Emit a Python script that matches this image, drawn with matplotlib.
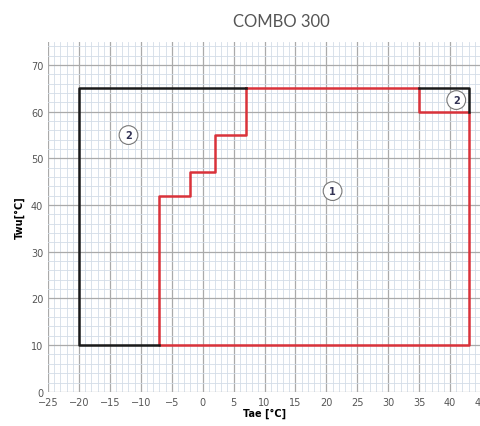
import matplotlib.pyplot as plt
from matplotlib.ticker import MultipleLocator

# limite operativo (contorno nero) e zona pompa di calore (contorno rosso)
black_x = [-7, -20, -20, 7]
black_y = [10, 10, 65, 65]
black_box_x = [35, 43, 43]
black_box_y = [65, 65, 60]
red_x = [7, 7, 2, 2, -2, -2, -7, -7, 43, 43, 35, 35, 7]
red_y = [65, 55, 55, 47, 47, 42, 42, 10, 10, 60, 60, 65, 65]

labels = ['1', '2', '2']
label_x = [21, -12, 41]
label_y = [43, 55, 62.5]

x_ticks = list(range(-25, 50, 5))
y_ticks = list(range(0, 80, 10))


def main():
    fig = plt.figure(figsize=(4.81, 4.27), dpi=100)
    ax = fig.add_axes([0.1, 0.08, 0.9, 0.82])

    ax.set_xlim(-25, 45)
    ax.set_ylim(0, 75)
    ax.set_xticks(x_ticks)
    ax.set_yticks(y_ticks)
    ax.xaxis.set_minor_locator(MultipleLocator(1))
    ax.yaxis.set_minor_locator(MultipleLocator(2))
    ax.grid(which='major', color='#aaaaaa', linewidth=0.9)
    ax.grid(which='minor', color='#d3dde8', linewidth=0.6)
    ax.set_axisbelow(True)
    for s in ax.spines.values():
        s.set_visible(False)
    ax.tick_params(which='both', length=0, labelsize=7, colors='#555555')

    ax.plot(red_x, red_y, color='#d9323a', linewidth=1.8)
    ax.plot(black_x, black_y, color='#1a1a1a', linewidth=1.8)
    ax.plot(black_box_x, black_box_y, color='#1a1a1a', linewidth=1.8)

    for t, x, y in zip(labels, label_x, label_y):
        ax.text(x, y, t, ha='center', va='center', fontsize=7, fontweight='bold',
                color='#333355',
                bbox=dict(boxstyle='circle,pad=0.45', fc='white', ec='#777777', lw=0.8))

    ax.set_xlabel('Tae [°C]', fontsize=7, fontweight='bold', labelpad=1)
    ax.set_ylabel('Twu[°C]', fontsize=7, fontweight='bold', labelpad=4)
    fig.text(0.585, 0.948, 'COMBO 300', ha='center', va='center', fontsize=12,
             color='#555555', family='Lato')

    fig.savefig('out.png', dpi=100)


if __name__ == '__main__':
    main()
